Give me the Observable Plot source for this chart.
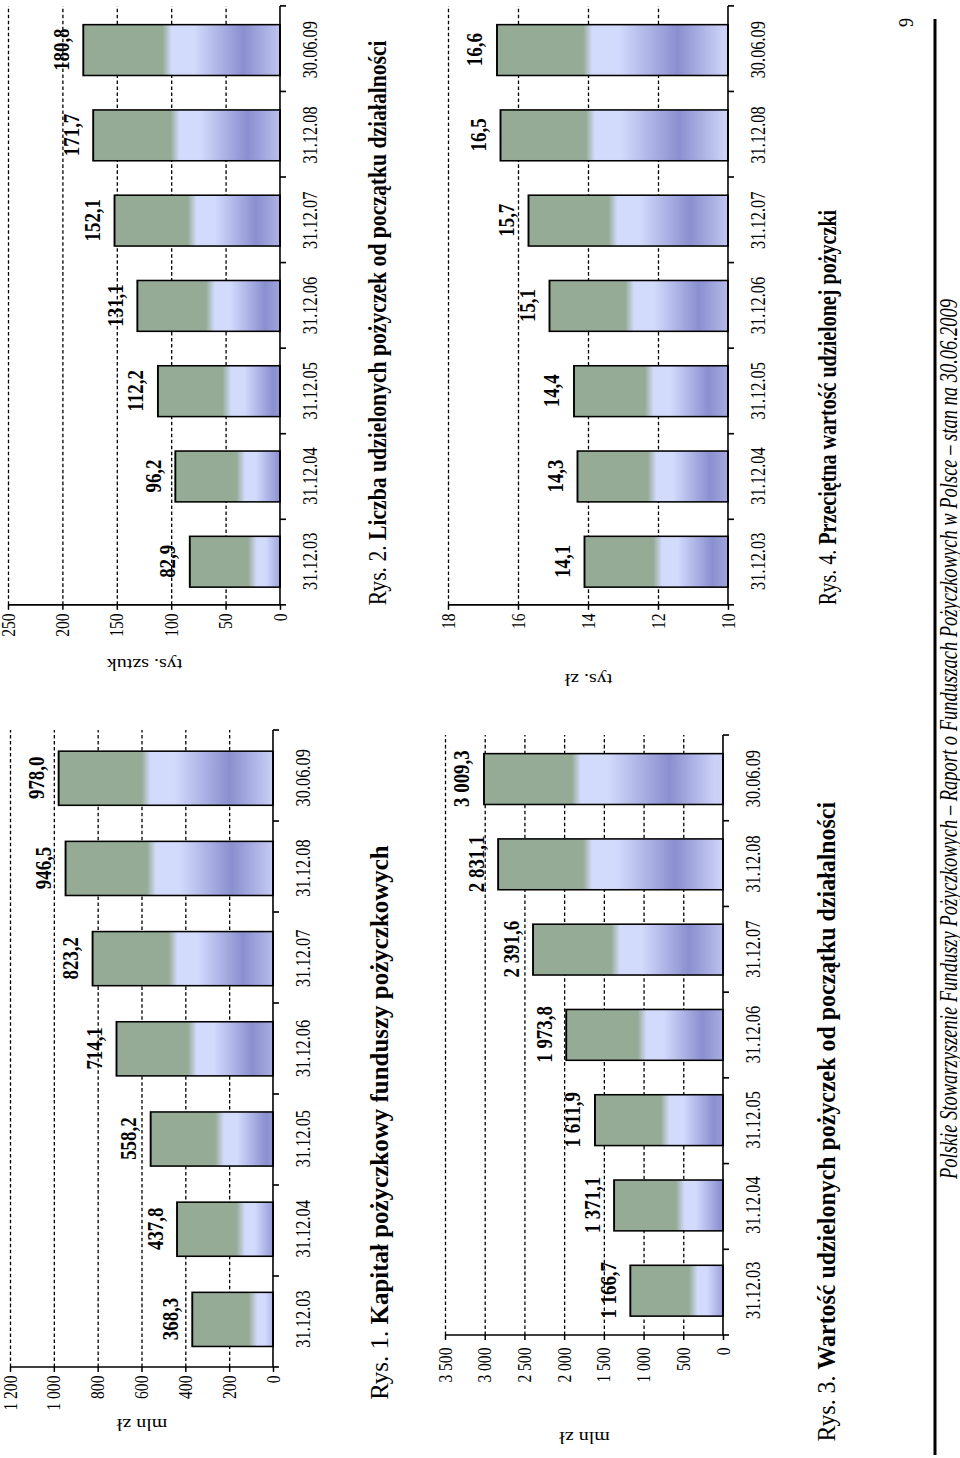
<!DOCTYPE html>
<html>
<head>
<meta charset="utf-8">
<script src="https://cdn.jsdelivr.net/npm/d3@7"></script>
<script src="https://cdn.jsdelivr.net/npm/@observablehq/plot@0.6"></script>
<style>
  html, body { margin: 0; padding: 0; background: #fff; }
  body { width: 960px; height: 1458px; overflow: hidden; position: relative;
         font-family: "Liberation Serif", "Times New Roman", serif; color: #000; }
  #page { position: absolute; left: 0; top: 0; height: 960px; transform-origin: 0 0; background: #fff; }
  .chart { position: absolute; }
  .cap { position: absolute; font-size: 26px; line-height: 28px; white-space: nowrap; color: #000;
         transform-origin: 0 50%; }
  .cap b { font-weight: bold; }
</style>
</head>
<body>
<div id="page"></div>
<script>
// ---------- data ----------
const dates = ["31.12.03", "31.12.04", "31.12.05", "31.12.06", "31.12.07", "31.12.08", "30.06.09"];
const kapital = [368.3, 437.8, 558.2, 714.1, 823.2, 946.5, 978.0];        // Rys. 1, mln zł
const liczba = [82.9, 96.2, 112.2, 131.1, 152.1, 171.7, 180.8];           // Rys. 2, tys. sztuk
const wartosc = [1166.7, 1371.1, 1611.9, 1973.8, 2391.6, 2831.1, 3009.3]; // Rys. 3, mln zł
const przecietna = [14.1, 14.3, 14.4, 15.1, 15.7, 16.5, 16.6];            // Rys. 4, tys. zł
const ticks1 = [0, 200, 400, 600, 800, 1000, 1200];
const ticks2 = [0, 50, 100, 150, 200, 250];
const ticks3 = [0, 500, 1000, 1500, 2000, 2500, 3000, 3500];
const ticks4 = [10, 12, 14, 16, 18];
const axisTitles = ["mln zł", "tys. sztuk", "mln zł", "tys. zł"];
const captionNums = ["Rys. 1.", "Rys. 2.", "Rys. 3.", "Rys. 4."];
const captionTexts = [
  "Kapitał pożyczkowy funduszy pożyczkowych",
  "Liczba udzielonych pożyczek od początku działalności",
  "Wartość udzielonych pożyczek od początku działalności",
  "Przeciętna wartość udzielonej pożyczki"
];
const footerText = "Polskie Stowarzyszenie Funduszy Pożyczkowych – Raport o Funduszach Pożyczkowych w Polsce – stan na 30.06.2009";
const pageNumber = "9";

// ---------- layout & styles ----------
// The page is laid out landscape and then rotated; K narrows it horizontally
// (the reference's typeface is visibly condensed).
const K = 0.82;
const PAGE_W = 1458, PAGE_H = 960;
const X = v => v / K;
const NS = "http://www.w3.org/2000/svg";
const GREEN = "#95ab95", LIGHT = "#d3dbfd", DARK = "#8a8fcf", BASE = "#cbd1f7";
const FONT = "'Liberation Serif', 'Times New Roman', serif";
const loc = d3.formatLocale({decimal: ",", thousands: "\u00a0", grouping: [3], currency: ["", ""]});
const fmtTick = loc.format(",");
const fmtVal = loc.format(",.1f");

const page = document.getElementById("page");
page.style.width = X(PAGE_W) + "px";
page.style.transform = `translate(0, ${PAGE_W}px) rotate(-90deg) scale(${K}, 1)`;

function applyGradients(svg, prefix) {
  const rects = svg.querySelectorAll('g[aria-label="bar"] rect');
  const defs = document.createElementNS(NS, "defs");
  rects.forEach((r, i) => {
    const y = +r.getAttribute("y"), h = +r.getAttribute("height");
    const L = 320;
    const gEnd = 40 + 0.2 * h;
    const dark = 42 + 0.6 * h;
    const lightA = gEnd + 9;
    const lightB = lightA + (dark - lightA) * 0.3;
    const stops = [[0, GREEN], [gEnd, GREEN], [lightA, LIGHT], [lightB, LIGHT], [dark, DARK], [dark + 45, BASE]];
    const lg = document.createElementNS(NS, "linearGradient");
    const id = `${prefix}-grad-${i}`;
    lg.setAttribute("id", id);
    lg.setAttribute("gradientUnits", "userSpaceOnUse");
    lg.setAttribute("x1", 0); lg.setAttribute("x2", 0);
    lg.setAttribute("y1", y); lg.setAttribute("y2", y + L);
    for (const [p, c] of stops) {
      const s = document.createElementNS(NS, "stop");
      s.setAttribute("offset", Math.max(0, Math.min(1, p / L)));
      s.setAttribute("stop-color", c);
      lg.appendChild(s);
    }
    defs.appendChild(lg);
    r.setAttribute("fill", `url(#${id})`);
  });
  svg.insertBefore(defs, svg.firstChild);
}

// axis lines plus the category-axis ticks placed between the bars
function axisFrame(lo, hi) {
  return (index, scales) => {
    const x = scales.x, y = scales.y;
    const [x0, x1] = x.range();
    const n = x.domain().length;
    const g = d3.create("svg:g").attr("stroke", "#000").attr("fill", "none");
    g.append("line").attr("stroke-width", 1.6).attr("x1", x0).attr("x2", x1).attr("y1", y(lo)).attr("y2", y(lo));
    g.append("line").attr("stroke-width", 2).attr("x1", x0).attr("x2", x0).attr("y1", y(lo) + 0.8).attr("y2", y(hi));
    for (let k = 0; k <= n; k++) {
      const xx = x0 + k * (x1 - x0) / n;
      g.append("line").attr("stroke-width", 2).attr("x1", xx).attr("x2", xx).attr("y1", y(lo)).attr("y2", y(lo) + 6);
    }
    return g.node();
  };
}

function makeChart(cfg, values, ticks, title) {
  const data = dates.map((d, i) => ({date: d, value: values[i]}));
  const lo = ticks[0], hi = ticks[ticks.length - 1];
  const svg = Plot.plot({
    width: X(cfg.width), height: cfg.height,
    marginLeft: X(cfg.ml), marginRight: X(cfg.mr), marginTop: cfg.mt, marginBottom: cfg.mb,
    style: {fontFamily: FONT, fontSize: "19px", color: "#000", background: "transparent", overflow: "visible"},
    x: {domain: dates, paddingInner: 0.4, paddingOuter: 0.2, label: null},
    y: {domain: [lo, hi], label: null},
    marks: [
      Plot.gridY({ticks: ticks.filter(t => t !== lo), stroke: "#000", strokeOpacity: 1, strokeWidth: 1.3, strokeDasharray: "4.3,3"}),
      Plot.barY(data, {x: "date", y1: lo, y2: "value", stroke: "#000", strokeWidth: 1.9, fill: LIGHT}),
      axisFrame(lo, hi),
      Plot.axisY({ticks, tickFormat: fmtTick, tickSize: X(5), tickPadding: X(cfg.tickPad), label: null, fontSize: 19, strokeWidth: 1.5}),
      Plot.axisX({tickSize: 0, tickPadding: 22, label: null, fontSize: 20}),
      Plot.text(data, {x: "date", y: "value", text: d => fmtVal(d.value), dy: -15, lineAnchor: "bottom", fontWeight: "bold", fontSize: 23}),
      Plot.text([title], {text: d => d, frameAnchor: "left", textAnchor: "middle", lineAnchor: "middle",
                          rotate: -90, dx: -X(cfg.titleOffset), fontSize: 20})
    ]
  });
  applyGradients(svg, cfg.prefix);
  return svg;
}

// positions in final (on-screen) pixels along the page's long side
const configs = [
  {prefix: "r1", left: 0,   top: 0,   width: 760, height: 340, ml: 91,  mr: 32, mt: 10, mb: 67, titleOffset: 58,  tickPad: 4},
  {prefix: "r2", left: 760, top: 0,   width: 698, height: 340, ml: 93,  mr: 6,  mt: 8,  mb: 60, titleOffset: 60,  tickPad: 4},
  {prefix: "r3", left: 0,   top: 420, width: 760, height: 360, ml: 123, mr: 37, mt: 25, mb: 57, titleOffset: 103, tickPad: 8},
  {prefix: "r4", left: 760, top: 420, width: 698, height: 360, ml: 93,  mr: 6,  mt: 28, mb: 52, titleOffset: 75,  tickPad: 4}
];
const series = [kapital, liczba, wartosc, przecietna];
const tickSets = [ticks1, ticks2, ticks3, ticks4];
configs.forEach((cfg, i) => {
  const div = document.createElement("div");
  div.className = "chart";
  div.style.left = X(cfg.left) + "px";
  div.style.top = cfg.top + "px";
  div.style.width = X(cfg.width) + "px";
  div.style.height = cfg.height + "px";
  div.appendChild(makeChart(cfg, series[i], tickSets[i], axisTitles[i]));
  page.appendChild(div);
});

// captions: [start along long side, vertical centre, on-screen length]
const capLayout = [[58, 380, 555], [853, 378, 565], [16, 827, 640], [853, 828, 395]];
captionNums.forEach((num, i) => {
  const [x0, yc, len] = capLayout[i];
  const c = document.createElement("div");
  c.className = "cap";
  c.style.left = X(x0) + "px";
  c.style.top = (yc - 14) + "px";
  c.innerHTML = `${num} <b>${captionTexts[i]}</b>`;
  page.appendChild(c);
  const s = X(len) / c.offsetWidth;
  c.style.transform = `scaleX(${s.toFixed(3)})`;
});

// footer
const foot = d3.create("svg").attr("width", X(PAGE_W)).attr("height", PAGE_H)
  .style("position", "absolute").style("left", "0px").style("top", "0px").style("overflow", "visible");
foot.append("line").attr("x1", X(3)).attr("x2", X(1439)).attr("y1", 935).attr("y2", 935)
  .attr("stroke", "#000").attr("stroke-width", 3);
foot.append("text").attr("x", X(719)).attr("y", 957).attr("text-anchor", "middle")
  .attr("font-family", FONT).attr("font-style", "italic").attr("font-size", 25)
  .attr("textLength", X(880)).attr("lengthAdjust", "spacingAndGlyphs").text(footerText);
foot.append("text").attr("x", X(1440)).attr("y", 913).attr("text-anchor", "end")
  .attr("font-family", FONT).attr("font-size", 22).text(pageNumber);
page.appendChild(foot.node());
</script>
</body>
</html>
